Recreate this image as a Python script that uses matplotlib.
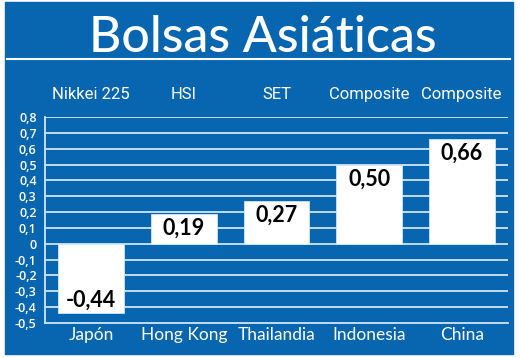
import matplotlib.pyplot as plt
from matplotlib.patches import Rectangle
from matplotlib.lines import Line2D
from matplotlib.transforms import blended_transform_factory

countries = ["Japón", "Hong Kong", "Thailandia", "Indonesia", "China"]
indices = ["Nikkei 225", "HSI", "SET", "Composite", "Composite"]
values = [-0.44, 0.19, 0.27, 0.50, 0.66]
yticks = [-0.5, -0.4, -0.3, -0.2, -0.1, 0, 0.1, 0.2, 0.3, 0.4, 0.5, 0.6, 0.7, 0.8]

blue = "#0865b0"
grid_col = "#cfe6f7"

fig = plt.figure(figsize=(5.2, 3.58), dpi=100)
fig.patch.set_facecolor("white")

# blue panel behind everything
fig.patches.append(Rectangle((5 / 520, 1 - 354 / 358), 508 / 520, 352 / 358,
                             transform=fig.transFigure, color=blue, zorder=-5))
fig.lines.append(Line2D([7 / 520, 510 / 520], [1 - 59 / 358] * 2,
                        transform=fig.transFigure, color="white", lw=1.5, zorder=-4))

fig.text(263 / 520, 1 - 52 / 358, "Bolsas Asiáticas", color="white",
         fontsize=36, family="Lato", fontweight="medium", ha="center", va="baseline")

ax = fig.add_axes([45 / 520, 1 - 323 / 358, 463 / 520, 206 / 358])
ax.set_facecolor("none")
x = list(range(len(values)))
ax.bar(x, values, width=0.71, color="white", edgecolor=grid_col, lw=0.6, zorder=3)

ax.set_xlim(-0.5, 4.5)
ax.set_ylim(-0.5, 0.8)
ax.set_yticks(yticks)
ax.set_yticklabels([("%g" % t).replace(".", ",") for t in yticks],
                   color="white", fontsize=9, family="Open Sans", fontweight="semibold")
ax.set_xticks(x)
ax.set_xticklabels(countries, color="white", fontsize=12.5, family="Lato")
ax.tick_params(axis="y", length=0, pad=6)
ax.tick_params(axis="x", length=0, pad=3)
for t in yticks[1:]:
    ax.axhline(t, color=grid_col, lw=1.3, zorder=1)
for s in ["top", "right"]:
    ax.spines[s].set_visible(False)
for s in ["left", "bottom"]:
    ax.spines[s].set_color(grid_col)
    ax.spines[s].set_linewidth(1.3)

# value labels inside the bars
for i, v in enumerate(values):
    lab = ("%.2f" % v).replace(".", ",")
    if v >= 0:
        ax.text(i, v - 0.025, lab, ha="center", va="top", fontsize=15.5,
                family="Lato", fontweight="bold", color="black", zorder=4)
    else:
        ax.text(i, v + 0.015, lab, ha="center", va="bottom", fontsize=15.5,
                family="Lato", fontweight="bold", color="black", zorder=4)

# index names above the plot
tr = blended_transform_factory(ax.transData, fig.transFigure)
for i, name in enumerate(indices):
    ax.text(i, 1 - 99 / 358, name, transform=tr, ha="center", va="baseline",
            color="white", fontsize=12, family="Roboto", clip_on=False)

fig.savefig("out.png", dpi=100, facecolor="white")
